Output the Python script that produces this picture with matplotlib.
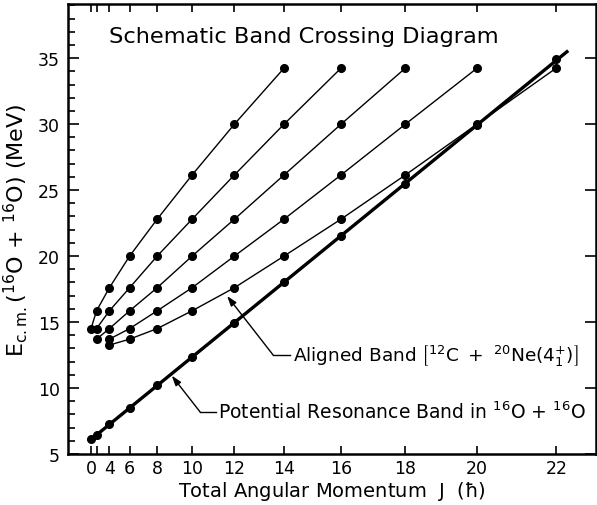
import numpy as np
import matplotlib.pyplot as plt

plt.rcParams['font.family'] = 'DejaVu Sans'
plt.rcParams['mathtext.default'] = 'regular'

# spin values (hbar) and energies (MeV)
j_pot = [0, 2, 4, 6, 8, 10, 12, 14, 16, 18, 20, 22]
e_pot = [6.1, 6.45, 7.25, 8.5, 10.2, 12.35, 14.95, 18.0, 21.5, 25.45, 29.95, 34.9]

j_b1 = [0, 2, 4, 6, 8, 10, 12, 14]
e_b1 = [14.5, 15.85, 17.6, 20.0, 22.8, 26.15, 30.0, 34.25]
j_b2 = [2, 4, 6, 8, 10, 12, 14, 16]
e_b2 = [14.5, 15.85, 17.6, 20.0, 22.8, 26.15, 30.0, 34.25]
j_b3 = [2, 4, 6, 8, 10, 12, 14, 16, 18]
e_b3 = [13.7, 14.5, 15.85, 17.6, 20.0, 22.8, 26.15, 30.0, 34.25]
j_b4 = [4, 6, 8, 10, 12, 14, 16, 18, 20]
e_b4 = [13.7, 14.5, 15.85, 17.6, 20.0, 22.8, 26.15, 30.0, 34.25]
j_al = [4, 6, 8, 10, 12, 14, 16, 18, 20, 22]
e_al = [13.25, 13.7, 14.5, 15.85, 17.6, 20.0, 22.8, 26.15, 30.0, 34.25]

j_ticks = [0, 2, 4, 6, 8, 10, 12, 14, 16, 18, 20, 22]
j_ticklabels = ['0', '', '4', '6', '8', '10', '12', '14', '16', '18', '20', '22']


def jj(j):
    j = np.asarray(j, dtype=float)
    return j * (j + 1)


fig = plt.figure(figsize=(5.97, 5.06), dpi=100)
ax = fig.add_axes([0.114, 0.101, 0.884, 0.889])

# thin bands
for j, e in [(j_b1, e_b1), (j_b2, e_b2), (j_b3, e_b3), (j_b4, e_b4), (j_al, e_al)]:
    ax.plot(jj(j), e, '-o', color='black', lw=1.0, ms=5.5)

# potential resonance band: straight line in J(J+1), drawn a little past J=22
k, e0 = np.polyfit(jj(j_pot), e_pot, 1)
xx = np.array([0, 519])
ax.plot(xx, e0 + k * xx, '-', color='black', lw=2.4, solid_capstyle='butt')
ax.plot(jj(j_pot), e_pot, 'o', color='black', ms=5.5)

ax.set_xlim(-25, 549)
ax.set_ylim(5, 39.1)
ax.set_xticks(jj(j_ticks))
ax.set_xticklabels(j_ticklabels, fontsize=12.5)
ax.set_yticks(np.arange(5, 36, 5))
ax.set_yticks(np.arange(5, 40, 1), minor=True)
ax.tick_params(axis='y', labelsize=12.5, pad=6)
ax.tick_params(which='both', direction='in', top=True, right=True, width=1.2)
ax.tick_params(which='major', length=8)
ax.tick_params(axis='x', which='major', length=6, pad=4)
ax.tick_params(axis='y', which='minor', length=5, right=False)
for s in ax.spines.values():
    s.set_linewidth(1.8)

ax.set_xlabel(r'Total Angular Momentum  J  ($\hbar$)', fontsize=14, labelpad=1)
ax.set_ylabel(r'E$_{c.m.}$($^{16}$O + $^{16}$O) (MeV)', fontsize=16)
ax.yaxis.set_label_coords(-0.072, 0.5)

ax.text(231, 36.7, 'Schematic Band Crossing Diagram', fontsize=16.2,
        ha='center', va='center')

# leaders for the labels
arr = dict(arrowstyle='-|>,head_length=0.6,head_width=0.2', color='black',
           lw=1.0, shrinkA=0, shrinkB=0)
ax.plot([198, 216], [12.5, 12.5], color='black', lw=1.0)
ax.annotate('', xy=(148, 16.97), xytext=(198, 12.5), arrowprops=arr)
ax.text(220, 12.5, r'Aligned Band $\left[{}^{12}C\ +\ {}^{20}Ne(4^{+}_{1})\right]$',
        fontsize=13.3, ha='left', va='center')

ax.plot([118.6, 136], [8.18, 8.18], color='black', lw=1.0)
ax.annotate('', xy=(87.8, 10.93), xytext=(118.6, 8.18), arrowprops=arr)
ax.text(138, 8.2, r'Potential Resonance Band in $^{16}$O + $^{16}$O', fontsize=13.5,
        ha='left', va='center')

fig.savefig('out.png', dpi=100)
